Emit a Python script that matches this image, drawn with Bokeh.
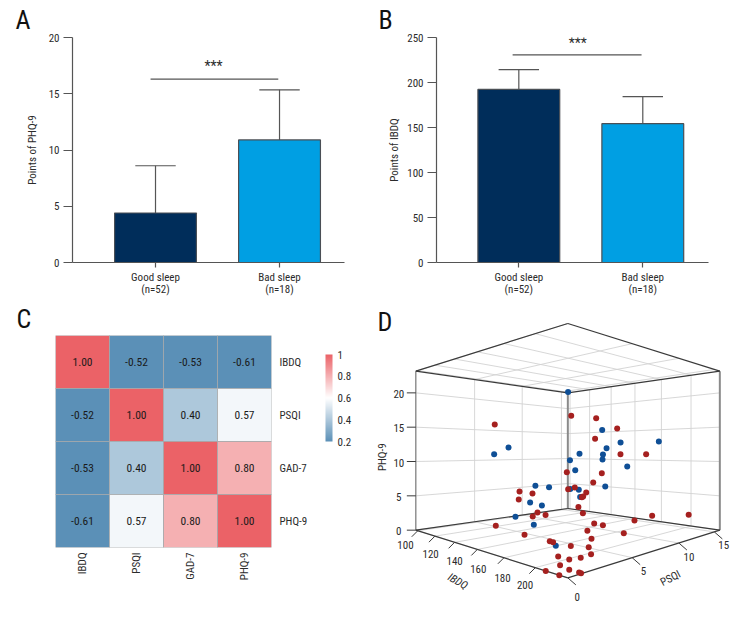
import numpy as np
from bokeh.plotting import figure
from bokeh.layouts import column, row
from bokeh.embed import file_html
from bokeh.resources import INLINE
from bokeh.core.properties import value
from bokeh.models import (Range1d, FactorRange, FixedTicker, ColorBar, LinearColorMapper,
                          ColumnDataSource)
from bokeh.transform import transform

FONT = "Roboto Condensed, Open Sans Condensed, DejaVu Sans Condensed, Lato"

# ---- data -------------------------------------------------------------
groups = ["Good sleep\n(n=52)", "Bad sleep\n(n=18)"]
phq_means = [4.4, 10.9]
phq_upper = [8.6, 15.35]
phq_sig = 16.3
phq_ticks = [0, 5, 10, 15, 20]
ibdq_means = [192.3, 154.3]
ibdq_upper = [214.3, 184.3]
ibdq_sig = 230.8
ibdq_ticks = [0, 50, 100, 150, 200, 250]

corr_names = ["IBDQ", "PSQI", "GAD-7", "PHQ-9"]
corr_row0 = [1.00, -0.52, -0.53, -0.61]
corr_row1 = [-0.52, 1.00, 0.40, 0.57]
corr_row2 = [-0.53, 0.40, 1.00, 0.80]
corr_row3 = [-0.61, 0.57, 0.80, 1.00]
cbar_ticks = [0.2, 0.4, 0.6, 0.8, 1.0]

blue_ibdq = [141.5, 109.6, 115.8, 156.4, 164.4, 181.0, 158.3, 146.6, 156.7, 156.6, 142.4, 167.2,
             144.7, 127.5, 133.3, 157.9, 142.7, 146.3, 146.7, 125.2, 130.1, 118.8, 144.1, 185.7]
blue_psqi = [10.1, 5.83, 6.66, 12.05, 13.1, 15.3, 12.3, 10.74, 12.1, 12.06, 10.2, 13.5,
             10.5, 8.2, 9.0, 12.2, 10.2, 10.7, 10.8, 7.9, 8.6, 7.06, 6.17, 3.2]
blue_phq = [21.0, 11.0, 12.1, 14.9, 12.9, 13.05, 11.98, 11.07, 10.97, 10.16, 10.06, 9.04,
            8.45, 5.94, 5.73, 5.84, 5.46, 5.3, 4.13, 3.27, 2.79, 1.0, 0.78, 0.5]

red_ibdq = [182.6, 190.95, 157.0, 198.0, 190.6, 199.1, 207.7, 181.1, 192.85, 189.95, 183.8, 181.6,
            165.3, 169.6, 187.6, 186.6, 186.2, 165.0, 185.0, 171.3, 186.5, 174.0, 169.7, 209.7,
            210.7, 203.8, 190.3, 193.2, 157.3, 188.0, 200.2, 167.0, 189.4, 175.4, 176.5,
            198.3, 203.6, 204.3, 194.6, 216.7, 213.75, 211.4, 213.75, 205.9, 213.1, 215.9, 217.0]
red_psqi = [4.92, 6.03, 1.52, 6.96, 5.98, 7.11, 8.25, 4.73, 6.28, 5.9, 5.08, 4.78,
            2.62, 3.2, 5.59, 5.45, 5.39, 2.59, 5.24, 3.42, 5.44, 3.78, 3.21, 8.52,
            12.9, 7.73, 5.94, 6.33, 1.57, 5.64, 7.26, 2.84, 5.82, 3.97, 4.12,
            2.77, 3.47, 3.56, 2.27, 0.97, 0.58, 0.27, 0.58, 0.0, 0.0, 0.97, 0.95]
red_phq = [15.89, 15.6, 14.82, 14.32, 13.04, 11.15, 11.15, 8.92, 8.79, 7.64, 7.02, 6.81,
           6.52, 6.27, 6.4, 5.9, 5.82, 5.53, 4.62, 3.92, 3.84, 3.63, 3.43, 3.51,
           2.7, 2.93, 2.56, 2.35, 2.27, 1.65, 1.36, 1.16, 0.66, 0.37, 0.25,
           1.15, 1.04, 0.27, 0.02, 1.44, 1.28, 0.74, 0.3, 0.0, 0.0, 0.0, 0.0]

ibdq_axis_ticks = [100, 120, 140, 160, 180, 200]
psqi_axis_ticks = [0, 5, 10, 15]
phq_axis_ticks = [0, 5, 10, 15, 20]
IBDQ_LIM = (97.6, 217.4)
PSQI_LIM = (0.0, 15.9)
PHQ_LIM = (0.0, 23.16)

# ---- styles -----------------------------------------------------------
AXIS = "#555555"
TXT = "#2b2b2b"
NAVY = "#002d5a"
CYAN = "#009fe3"
TICK_FS = "11px"


def letter(p, txt, offset, standoff):
    p.title.text = txt
    p.title.align = "left"
    p.title.offset = offset
    p.title.standoff = standoff
    p.title.text_font = FONT
    p.title.text_font_size = "26px"
    p.title.text_font_style = "normal"
    p.title.text_color = "#111111"


def bar_panel(means, upper, sig, ticks, ytop, ylabel, xr, sig_x, star_x, star_y, border):
    p = figure(width=border["w"], height=300, x_range=Range1d(*xr), y_range=Range1d(0, ytop),
               output_backend="svg", toolbar_location=None, frame_align=False,
               min_border_left=border["l"], min_border_right=border["r"], min_border_top=37, min_border_bottom=38)
    p.outline_line_color = None
    p.xgrid.visible = False
    p.ygrid.visible = False
    xs = [1, 2]
    p.segment(xs, means, xs, upper, line_color=AXIS, line_width=1.2)
    p.segment([x - 0.163 for x in xs], upper, [x + 0.163 for x in xs], upper, line_color=AXIS, line_width=1.2)
    p.vbar(x=xs, top=means, bottom=0, width=0.66, fill_color=[NAVY, CYAN], line_color="#4a4f55", line_width=1.2)
    p.line(sig_x, [sig, sig], line_color=AXIS, line_width=1.2)
    p.text([star_x], [star_y], text=["***"], text_align="center", text_baseline="middle",
           text_font=value(FONT), text_font_size="14px", text_color=TXT)
    ax = p.xaxis[0]
    ax.ticker = FixedTicker(ticks=xs)
    ax.major_label_overrides = {1: groups[0], 2: groups[1]}
    ay = p.yaxis[0]
    ay.ticker = FixedTicker(ticks=ticks)
    ay.axis_label = ylabel
    ay.axis_label_text_font = FONT
    ay.axis_label_text_font_size = "11px"
    ay.axis_label_text_font_style = "normal"
    ay.axis_label_text_color = TXT
    ay.axis_label_standoff = border["ls"]
    for a in (ax, ay):
        a.axis_line_color = AXIS
        a.axis_line_width = 1.2
        a.major_tick_line_color = AXIS
        a.major_tick_line_width = 1.2
        a.minor_tick_line_color = None
        a.major_tick_in = 0
        a.major_label_text_font = FONT
        a.major_label_text_font_size = TICK_FS
        a.major_label_text_color = TXT
    ax.major_tick_out = 5
    ax.major_label_standoff = 3
    ax.major_label_text_line_height = 0.95
    ay.major_tick_out = 9
    ay.major_label_standoff = 4
    return p


pa = bar_panel(phq_means, phq_upper, phq_sig, phq_ticks, 20, "Points of PHQ-9", (0.3306, 2.524),
               [0.96, 1.99], 1.468, 17.45, dict(w=368, l=72, r=24, ls=7))
letter(pa, "A", -57, 5)
pb = bar_panel(ibdq_means, ibdq_upper, ibdq_sig, ibdq_ticks, 250, "Points of IBDQ", (0.336, 2.53),
               [0.95, 1.99], 1.476, 244.4, dict(w=380, l=68, r=40, ls=3))
letter(pb, "B", -58, 5)

# ---- heat map ---------------------------------------------------------
LOW = np.array([0x5b, 0x90, 0xb7])
MID = np.array([0xff, 0xff, 0xff])
HIGH = np.array([0xeb, 0x62, 0x67])
pal = []
for f in np.linspace(0, 1, 256):
    c = LOW + (MID - LOW) * f * 2 if f < 0.5 else MID + (HIGH - MID) * (f - 0.5) * 2
    pal.append("#%02x%02x%02x" % tuple(int(round(v)) for v in c))
mapper = LinearColorMapper(palette=pal, low=0.2, high=1.0)

corr = [corr_row0, corr_row1, corr_row2, corr_row3]
cx, cy, cv, ct = [], [], [], []
for i, nm_y in enumerate(corr_names):
    for j, nm_x in enumerate(corr_names):
        cx.append(nm_x)
        cy.append(nm_y)
        cv.append(corr[i][j])
        ct.append("%.2f" % corr[i][j])
src = ColumnDataSource(dict(x=cx, y=cy, v=cv, t=ct))

pc = figure(width=368, height=328, x_range=FactorRange(*corr_names), y_range=FactorRange(*corr_names[::-1]),
            y_axis_location="right", output_backend="svg", toolbar_location=None, frame_align=False,
            min_border_left=55, min_border_right=97, min_border_top=34, min_border_bottom=81)
pc.outline_line_color = None
pc.xgrid.visible = False
pc.ygrid.visible = False
pc.rect("x", "y", 1, 1, source=src, fill_color=transform("v", mapper), line_color="#a4a8ab", line_width=0.8)
pc.text("x", "y", text="t", source=src, text_align="center", text_baseline="middle",
        text_font=value(FONT), text_font_size="11.5px", text_color="#1a1a1a")
for a in (pc.xaxis[0], pc.yaxis[0]):
    a.axis_line_color = None
    a.major_tick_line_color = None
    a.minor_tick_line_color = None
    a.major_tick_out = 0
    a.major_tick_in = 0
    a.major_label_text_font = FONT
    a.major_label_text_font_size = TICK_FS
    a.major_label_text_color = TXT
    a.major_label_standoff = 8
pc.xaxis[0].major_label_orientation = np.pi / 2
pc.xaxis[0].major_label_standoff = 5
cb = ColorBar(color_mapper=mapper, ticker=FixedTicker(ticks=cbar_ticks), width=7, height=87,
              location=(270, 106), padding=0, margin=0, bar_line_color=None, major_tick_line_color=None,
              label_standoff=5, major_label_text_font=FONT, major_label_text_font_size="11px",
              major_label_text_color=TXT, background_fill_color=None,
              major_label_overrides={1.0: "1"})
pc.add_layout(cb, "center")
letter(pc, "C", -39, 3)

# ---- 3D scatter -------------------------------------------------------
SX, DEP, HOR, HZ, CX = 456.0 / 3, 0.375, 450.5 / 3, 238.5 / 3, 199.33


def project(ibdq, psqi, phq):
    s = (np.asarray(ibdq, float) - IBDQ_LIM[0]) / (IBDQ_LIM[1] - IBDQ_LIM[0])
    t = (np.asarray(psqi, float) - PSQI_LIM[0]) / (PSQI_LIM[1] - PSQI_LIM[0])
    w = (np.asarray(phq, float) - PHQ_LIM[0]) / (PHQ_LIM[1] - PHQ_LIM[0])
    d = 1 + DEP * (t - s)
    return CX + SX * (s + t - 1) / d, HOR + HZ * (1 - 2 * w) / d


def seg3(a, b):
    xa, ya = project(*a)
    xb, yb = project(*b)
    return [float(xa), float(xb)], [float(ya), float(yb)]


pd_ = figure(width=380, height=328, x_range=Range1d(0, 380), y_range=Range1d(328, 0),
             output_backend="svg", toolbar_location=None, frame_align=False,
             min_border=0, x_axis_location=None, y_axis_location=None)
pd_.outline_line_color = None
pd_.xgrid.visible = False
pd_.ygrid.visible = False
I0, I1 = IBDQ_LIM
P0, P1 = PSQI_LIM
Z0, Z1 = PHQ_LIM

gx, gy = [], []
def add(a, b):
    xs, ys = seg3(a, b)
    gx.append(xs); gy.append(ys)

for i in ibdq_axis_ticks:
    add((i, P0, Z0), (i, P1, Z0))
    add((i, P0, Z1), (i, P1, Z1))
    add((i, P1, Z0), (i, P1, Z1))
for q in psqi_axis_ticks:
    add((I0, q, Z0), (I1, q, Z0))
    add((I0, q, Z1), (I1, q, Z1))
    add((I0, q, Z0), (I0, q, Z1))
for z in phq_axis_ticks:
    add((I0, P0, z), (I0, P1, z))
    add((I0, P1, z), (I1, P1, z))
pd_.multi_line(gx, gy, line_color="#d2d2d2", line_width=0.9)

# verticals
vx, vy = [], []
for a, b in [((I0, P0, Z0), (I0, P0, Z1))]:
    xs, ys = seg3(a, b); vx.append(xs); vy.append(ys)
pd_.multi_line(vx, vy, line_color="#6e6e6e", line_width=1.0)
vx, vy = [], []
for a, b in [((I0, P1, Z0), (I0, P1, Z1)), ((I1, P1, Z0), (I1, P1, Z1))]:
    xs, ys = seg3(a, b); vx.append(xs); vy.append(ys)
pd_.multi_line(vx, vy, line_color="#8a8a8a", line_width=2.0)

# dark edges
ex, ey = [], []
for a, b in [((I0, P0, Z0), (I1, P0, Z0)), ((I1, P0, Z0), (I1, P1, Z0)),
             ((I0, P0, Z0), (I0, P1, Z0)), ((I0, P1, Z0), (I1, P1, Z0)),
             ((I0, P0, Z1), (I1, P0, Z1)), ((I1, P0, Z1), (I1, P1, Z1)),
             ((I0, P0, Z1), (I0, P1, Z1)), ((I0, P1, Z1), (I1, P1, Z1))]:
    xs, ys = seg3(a, b); ex.append(xs); ey.append(ys)
pd_.multi_line(ex, ey, line_color="#3a3a3a", line_width=1.2)

# ticks and labels
ibx, iby = project(ibdq_axis_ticks, [P0] * 6, [Z0] * 6)
pd_.segment(ibx, iby, ibx - 6, iby + 6, line_color="#3a3a3a", line_width=1.0)
ib_off_x = [-12.3, -4.3, 0, 1, -1.3, -10.3]
ib_off_y = [14.7, 17.7, 19, 20, 20, 17.7]
pd_.text(ibx + np.array(ib_off_x), iby + np.array(ib_off_y), text=[str(v) for v in ibdq_axis_ticks],
         text_align="center", text_baseline="middle", text_font=value(FONT), text_font_size=TICK_FS, text_color=TXT)

psx, psy = project([I1] * 4, psqi_axis_ticks, [Z0] * 4)
pd_.segment(psx, psy, psx + 8, psy + 7, line_color="#3a3a3a", line_width=1.0)
ps_off_x = [9.3, 11.3, 10, 9.3]
ps_off_y = [19.3, 13.7, 14.2, 12.7]
pd_.text(psx + np.array(ps_off_x), psy + np.array(ps_off_y), text=[str(v) for v in psqi_axis_ticks],
         text_align="center", text_baseline="middle", text_font=value(FONT), text_font_size=TICK_FS, text_color=TXT)

zx, zy = project([I0] * 5, [P0] * 5, phq_axis_ticks)
pd_.segment(zx, zy, zx - 9, zy, line_color="#3a3a3a", line_width=1.0)
pd_.text(zx - 17, zy + 1, text=[str(v) for v in phq_axis_ticks], text_align="center", text_baseline="middle",
         text_font=value(FONT), text_font_size=TICK_FS, text_color=TXT)

pd_.text([13.7], [156.7], text=["PHQ-9"], angle=[np.pi / 2], text_align="center", text_baseline="middle",
         text_font=value(FONT), text_font_size="11px", text_color=TXT)
pd_.text([89.3], [281], text=["IBDQ"], angle=[-0.52], text_align="center", text_baseline="middle",
         text_font=value(FONT), text_font_size="11px", text_font_style="italic", text_color=TXT)
pd_.text([302], [277.7], text=["PSQI"], angle=[0.48], text_align="center", text_baseline="middle",
         text_font=value(FONT), text_font_size="11px", text_color=TXT)

# points
bx, by = project(blue_ibdq, blue_psqi, blue_phq)
rx, ry = project(red_ibdq, red_psqi, red_phq)
pd_.scatter(bx, by, size=6, fill_color="#0f4f96", line_color=None)
pd_.scatter(rx, ry, size=6, fill_color="#a5201f", line_color=None)
pd_.text([9], [21], text=["D"], text_baseline="middle", text_font=value(FONT), text_font_size="26px", text_color="#111111")

page = column(row(pa, pb), row(pc, pd_))
open("out.html", "w").write(file_html(page, INLINE))
